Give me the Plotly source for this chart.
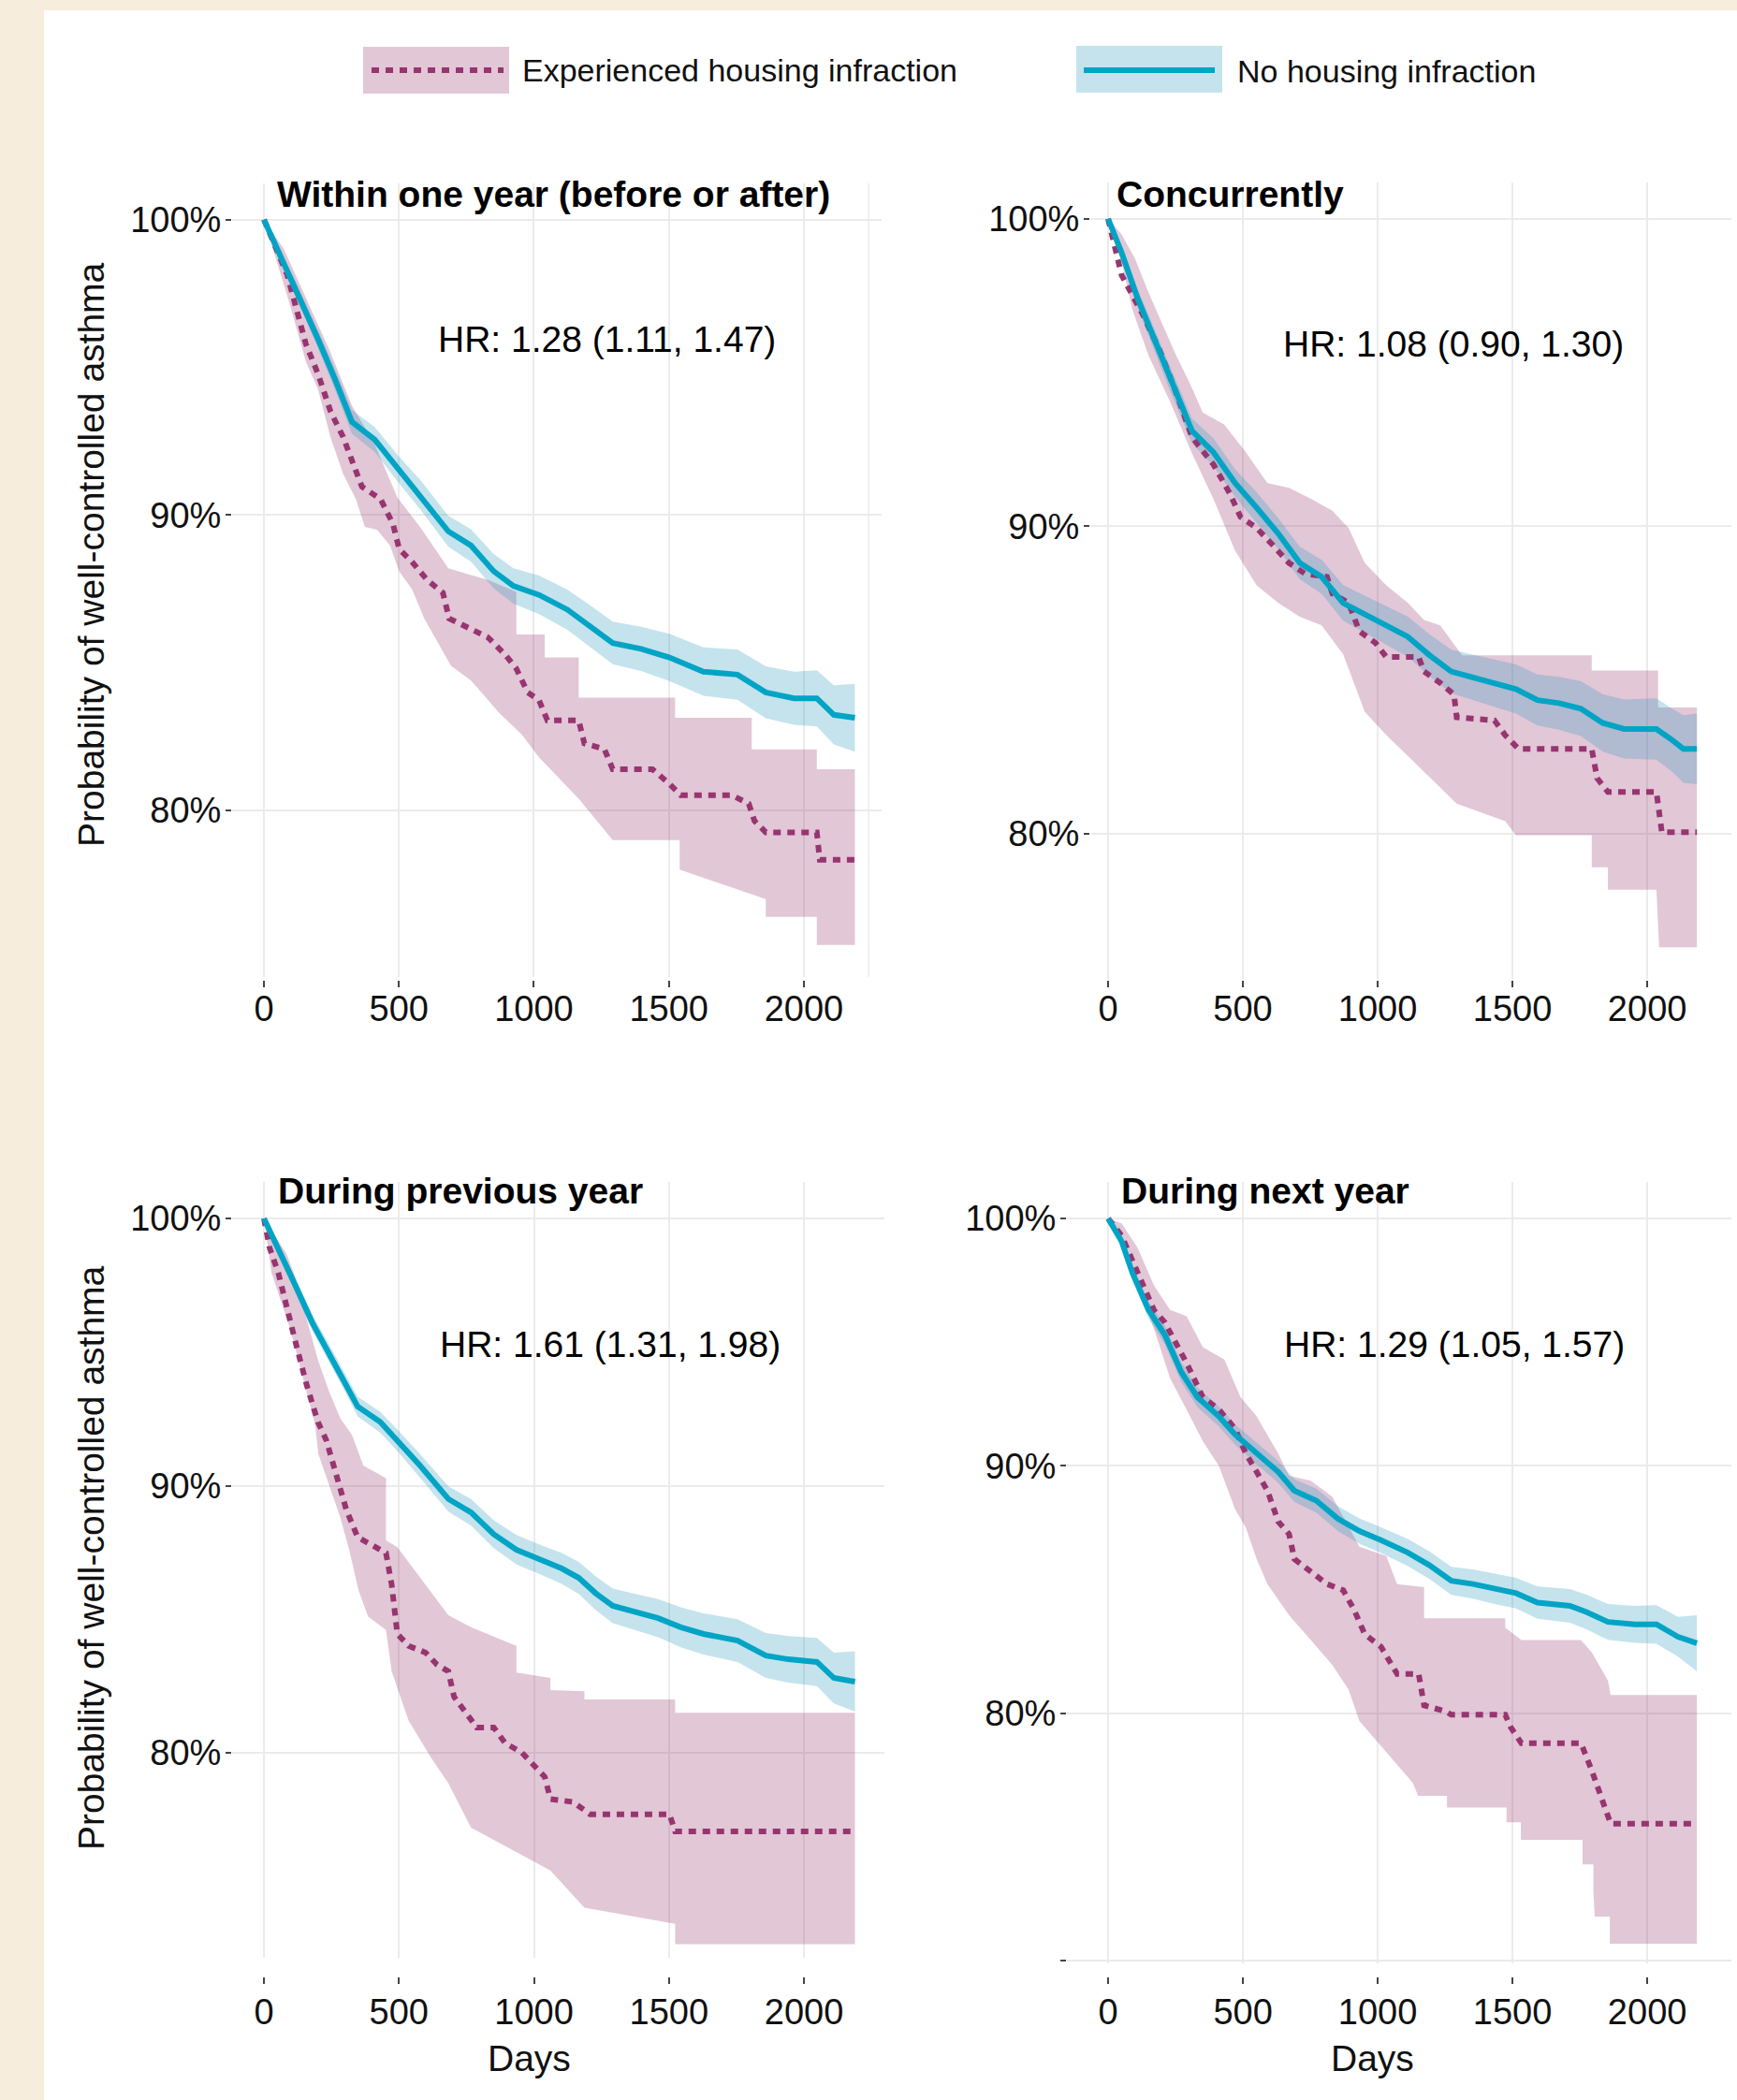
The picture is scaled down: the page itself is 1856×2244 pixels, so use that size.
import plotly.graph_objects as go

W, H = 1856, 2244

# ---------------- data ----------------
panel_titles = ["Within one year (before or after)", "Concurrently",
                "During previous year", "During next year"]
hr_labels = ["HR: 1.28 (1.11, 1.47)", "HR: 1.08 (0.90, 1.30)",
             "HR: 1.61 (1.31, 1.98)", "HR: 1.29 (1.05, 1.57)"]
series_names = ["Experienced housing infraction", "No housing infraction"]
x_tick_vals = [0, 500, 1000, 1500, 2000]
y_tick_vals = [80, 90, 100]
y_tick_text = ["80%", "90%", "100%"]
y_tick_vals_p4 = [70, 80, 90, 100]
y_tick_text_p4 = ["", "80%", "90%", "100%"]

# Panel 1: within one year (before or after)
p1_none_days = [0, 116, 200, 263, 326, 410, 494, 578, 683, 767, 851, 924, 1019, 1124, 1208,
                1292, 1397, 1502, 1628, 1754, 1859, 1964, 2048, 2111, 2189]
p1_none_surv = [100, 97.7, 95.96, 94.6, 93.15, 92.56, 91.6, 90.7, 89.45, 88.97, 88.1, 87.6, 87.3,
                86.8, 86.25, 85.67, 85.47, 85.18, 84.7, 84.6, 84.0, 83.8, 83.8, 83.24, 83.14]
p1_none_hi = [100, 97.95, 96.26, 94.95, 93.55, 92.98, 92.05, 91.2, 89.97, 89.52, 88.68, 88.2, 87.95,
              87.48, 86.95, 86.39, 86.22, 85.98, 85.52, 85.45, 84.88, 84.7, 84.75, 84.24, 84.29]
p1_none_lo = [100, 97.45, 95.66, 94.25, 92.75, 92.14, 91.15, 90.2, 88.93, 88.42, 87.52, 87.0, 86.65,
              86.12, 85.55, 84.95, 84.72, 84.38, 83.88, 83.75, 83.12, 82.9, 82.85, 82.24, 81.99]
p1_inf_days = [0, 86, 155, 201, 247, 293, 328, 363, 432, 478, 501, 548, 605, 663, 686, 767, 830, 893,
               935, 977, 1019, 1050, 1166, 1187, 1261, 1292, 1439, 1502, 1544, 1733, 1796, 1817,
               1859, 2048, 2059, 2189]
p1_inf_surv = [100, 98.14, 95.8, 94.76, 93.5, 92.65, 91.8, 90.96, 90.54, 89.7, 88.85, 88.42, 87.8,
               87.37, 86.5, 86.15, 85.86, 85.28, 84.8, 84.0, 83.73, 83.05, 83.05, 82.27, 82.08, 81.4,
               81.4, 80.9, 80.52, 80.52, 80.23, 79.65, 79.26, 79.26, 78.33, 78.33]
p1_inf_hi_days = [0, 74, 158, 242, 326, 410, 494, 578, 683, 760, 830, 935, 935, 1040, 1040, 1166,
                  1166, 1523, 1523, 1807, 1807, 2048, 2048, 2189]
p1_inf_hi = [100, 99.0, 97.3, 95.6, 93.7, 92.4, 90.6, 89.6, 88.2, 88.0, 87.8, 87.4, 85.96, 85.96,
             85.18, 85.18, 83.82, 83.82, 83.14, 83.14, 82.07, 82.07, 81.4, 81.4]
p1_inf_lo_days = [0, 97, 155, 201, 246, 293, 340, 374, 420, 467, 501, 548, 594, 693, 767, 872, 956,
                  1019, 1166, 1292, 1540, 1540, 1859, 1859, 2048, 2048, 2189]
p1_inf_lo = [100, 97.1, 95.2, 94.24, 92.65, 91.4, 90.55, 89.6, 89.5, 88.97, 88.1, 87.5, 86.5, 84.9,
             84.4, 83.3, 82.56, 81.8, 80.4, 79.0, 79.0, 78.0, 77.0, 76.4, 76.4, 75.45, 75.45]

# Panel 2: concurrently
p2_none_days = [0, 50, 110, 170, 230, 311, 391, 471, 551, 631, 711, 792, 872, 952, 1032, 1112, 1192,
                1273, 1353, 1433, 1513, 1593, 1673, 1754, 1834, 1914, 2034, 2094, 2134, 2184]
p2_none_surv = [100, 98.9, 97.4, 96.1, 94.8, 93.1, 92.4, 91.4, 90.6, 89.76, 88.8, 88.35, 87.5, 87.14,
                86.77, 86.4, 85.8, 85.27, 85.08, 84.9, 84.7, 84.34, 84.24, 84.06, 83.6, 83.4, 83.4,
                83.03, 82.75, 82.75]
p2_none_hi = [100, 99.1, 97.7, 96.45, 95.2, 93.5, 92.85, 91.85, 91.1, 90.26, 89.33, 88.9, 88.08,
              87.74, 87.4, 87.05, 86.48, 85.98, 85.82, 85.67, 85.5, 85.17, 85.1, 84.95, 84.53, 84.36,
              84.4, 84.05, 83.85, 83.9]
p2_none_lo = [100, 98.7, 97.1, 95.75, 94.4, 92.7, 91.95, 90.95, 90.1, 89.26, 88.27, 87.8, 86.92,
              86.54, 86.14, 85.75, 85.12, 84.56, 84.34, 84.13, 83.9, 83.51, 83.38, 83.17, 82.67,
              82.44, 82.4, 82.0, 81.65, 81.6]
p2_inf_days = [0, 50, 130, 190, 250, 311, 391, 451, 491, 551, 611, 671, 731, 812, 832, 892, 932, 992,
               1032, 1152, 1172, 1232, 1283, 1293, 1433, 1473, 1523, 1794, 1814, 1854, 2034, 2054,
               2184]
p2_inf_surv = [100, 98.17, 96.86, 95.74, 94.4, 92.9, 92.0, 91.07, 90.3, 89.94, 89.38, 88.8, 88.45,
               88.35, 87.8, 87.5, 86.58, 86.2, 85.74, 85.74, 85.27, 84.9, 84.52, 83.78, 83.68, 83.2,
               82.75, 82.75, 81.8, 81.35, 81.35, 80.04, 80.04]
p2_inf_hi_days = [0, 50, 100, 150, 200, 250, 311, 351, 431, 511, 591, 671, 751, 832, 892, 952, 1032,
                  1112, 1172, 1232, 1313, 1794, 1794, 2040, 2040, 2184]
p2_inf_hi = [100, 99.5, 98.7, 97.6, 96.6, 95.6, 94.5, 93.7, 93.3, 92.4, 91.4, 91.25, 90.9, 90.5,
             89.94, 88.8, 88.07, 87.5, 86.95, 86.77, 85.8, 85.8, 85.3, 85.3, 84.1, 84.1]
p2_inf_lo_days = [0, 50, 90, 150, 230, 311, 391, 471, 551, 631, 711, 792, 872, 952, 1032, 1150,
                  1293, 1473, 1513, 1794, 1794, 1854, 1854, 2034, 2044, 2184]
p2_inf_lo = [100, 98.6, 97.05, 95.55, 94.05, 92.37, 90.88, 89.2, 88.07, 87.5, 87.05, 86.77, 85.83,
             83.96, 83.2, 82.2, 80.97, 80.4, 79.94, 79.94, 78.9, 78.9, 78.17, 78.17, 76.3, 76.3]

# Panel 3: during previous year
p3_none_days = [0, 53, 116, 179, 242, 305, 347, 431, 494, 578, 683, 767, 851, 935, 1019, 1103, 1166,
                1229, 1292, 1376, 1460, 1544, 1628, 1754, 1859, 1943, 2048, 2111, 2189]
p3_none_surv = [100, 98.9, 97.5, 96.1, 94.94, 93.78, 92.96, 92.38, 91.7, 90.75, 89.5, 89.0, 88.18,
                87.6, 87.25, 86.9, 86.55, 85.97, 85.5, 85.27, 85.04, 84.7, 84.45, 84.2, 83.64, 83.5,
                83.4, 82.8, 82.66]
p3_none_hi = [100, 99.1, 97.75, 96.4, 95.27, 94.13, 93.33, 92.76, 92.1, 91.18, 89.97, 89.5, 88.7,
              88.15, 87.8, 87.48, 87.15, 86.6, 86.15, 85.95, 85.75, 85.45, 85.22, 85.0, 84.48, 84.37,
              84.3, 83.75, 83.8]
p3_none_lo = [100, 98.7, 97.25, 95.8, 94.6, 93.43, 92.59, 91.98, 91.3, 90.3, 89.03, 88.5, 87.66,
              87.05, 86.7, 86.32, 85.95, 85.34, 84.85, 84.59, 84.33, 83.95, 83.68, 83.4, 82.8, 82.63,
              82.5, 81.85, 81.54]
p3_inf_days = [0, 21, 53, 84, 116, 158, 200, 231, 263, 305, 347, 389, 452, 473, 494, 536, 599, 641,
               683, 704, 746, 788, 851, 893, 956, 1008, 1040, 1061, 1145, 1208, 1502, 1523, 2189]
p3_inf_surv = [100, 98.9, 97.97, 96.8, 95.4, 93.78, 92.38, 91.7, 90.5, 89.1, 88.07, 87.83, 87.48,
               86.3, 84.45, 84.0, 83.75, 83.3, 83.05, 82.1, 81.5, 80.95, 80.95, 80.37, 80.0, 79.4,
               79.1, 78.27, 78.16, 77.7, 77.7, 77.06, 77.06]
p3_inf_hi_days = [0, 84, 116, 158, 200, 242, 284, 326, 368, 452, 452, 494, 578, 683, 767, 935, 935,
                  1061, 1061, 1187, 1187, 1523, 1523, 2189]
p3_inf_hi = [100, 98.67, 97.8, 96.2, 94.7, 93.5, 92.5, 91.9, 90.75, 90.28, 87.95, 87.7, 86.55,
             85.15, 84.7, 84.0, 83.0, 82.8, 82.35, 82.3, 82.0, 82.0, 81.5, 81.5]
p3_inf_lo_days = [0, 28, 97, 143, 190, 201, 281, 316, 351, 386, 452, 473, 536, 578, 620, 683, 767,
                  893, 1061, 1187, 1523, 1523, 2189]
p3_inf_lo = [100, 97.97, 95.87, 94.1, 92.25, 91.2, 88.86, 87.58, 86.06, 85.1, 84.6, 83.05, 81.2,
             80.5, 79.8, 78.86, 77.2, 76.5, 75.6, 74.2, 73.6, 72.84, 72.84]

# Panel 4: during next year
p4_none_days = [0, 50, 90, 150, 210, 271, 331, 411, 471, 551, 631, 691, 772, 852, 932, 1012, 1112,
                1192, 1273, 1353, 1433, 1513, 1593, 1713, 1774, 1854, 1954, 2034, 2114, 2184]
p4_none_surv = [100, 99.07, 97.8, 96.3, 95.3, 93.8, 92.78, 92.0, 91.27, 90.5, 89.76, 89.0, 88.6,
                87.87, 87.37, 87.0, 86.5, 85.99, 85.36, 85.23, 85.03, 84.86, 84.48, 84.35, 84.1,
                83.7, 83.6, 83.6, 83.1, 82.84]
p4_none_hi = [100, 99.3, 98.1, 96.65, 95.68, 94.2, 93.18, 92.4, 91.68, 90.93, 90.2, 89.46, 89.08,
              88.37, 87.88, 87.52, 87.05, 86.55, 85.93, 85.82, 85.64, 85.48, 85.13, 85.03, 84.8,
              84.42, 84.35, 84.38, 83.9, 83.97]
p4_none_lo = [100, 98.85, 97.5, 95.95, 94.92, 93.4, 92.38, 91.6, 90.86, 90.07, 89.32, 88.54, 88.12,
              87.37, 86.86, 86.48, 85.95, 85.43, 84.79, 84.64, 84.42, 84.24, 83.83, 83.67, 83.4,
              82.98, 82.85, 82.82, 82.3, 81.7]
p4_inf_days = [0, 50, 110, 170, 210, 250, 291, 351, 411, 471, 511, 551, 591, 631, 671, 691, 752, 812,
               872, 912, 952, 1012, 1052, 1072, 1152, 1172, 1253, 1273, 1473, 1493, 1533, 1754,
               1794, 1834, 1864, 2184]
p4_inf_surv = [100, 99.3, 97.8, 96.3, 95.8, 95.0, 94.16, 92.78, 92.28, 91.5, 90.5, 89.76, 89.0,
               87.75, 87.25, 86.24, 85.74, 85.23, 84.98, 84.2, 83.2, 82.7, 81.96, 81.6, 81.6, 80.33,
               80.08, 79.95, 79.95, 79.45, 78.8, 78.8, 77.7, 76.4, 75.55, 75.55]
p4_inf_hi_days = [0, 50, 110, 170, 230, 291, 351, 431, 491, 551, 631, 671, 752, 832, 932, 1032, 1072,
                  1172, 1172, 1473, 1473, 1533, 1754, 1794, 1854, 1864, 2184]
p4_inf_hi = [100, 99.8, 98.8, 97.3, 96.3, 96.05, 94.8, 94.3, 92.78, 92.0, 90.5, 89.6, 89.4, 88.75,
             86.74, 86.36, 85.23, 85.1, 83.85, 83.85, 83.47, 82.97, 82.97, 82.47, 81.33, 80.75,
             80.75]
p4_inf_lo_days = [0, 50, 110, 170, 230, 291, 351, 411, 471, 511, 551, 591, 671, 752, 832, 892, 932,
                  1052, 1130, 1150, 1257, 1257, 1478, 1478, 1531, 1531, 1760, 1760, 1800, 1800, 1805,
                  1861, 1861, 2184]
p4_inf_lo = [100, 98.9, 97.3, 95.55, 93.53, 92.28, 91.0, 90.0, 88.25, 87.5, 86.24, 85.23, 83.97,
             82.97, 81.96, 80.96, 79.7, 78.2, 77.2, 76.67, 76.67, 76.2, 76.2, 75.6, 75.6, 74.9, 74.9,
             73.9, 73.9, 72.85, 71.8, 71.8, 70.7, 70.7]

# ---------------- styling ----------------
CREAM = "#F6EDDC"
TEAL = "#00A4C5"
MAROON = "#973570"
TEAL_FILL = "rgba(40,150,190,0.27)"
PINK_FILL = "rgba(150,55,110,0.28)"
GRID = "#EBEBEB"
FONT = "Liberation Sans, Arial, Helvetica, sans-serif"
DOT = "8px,7px"


def px_x(px):
    return px / W


def px_y(py):
    return 1 - py / H


# pixel frame of each panel: (left, right), (top, bottom), x range, y range,
# x tick row and label standoff
frames = [
    dict(xd=(248, 942), yd=(196, 1044), xr=(-118, 2288), yr=(74.365, 101.226), tick=1047, so=-10),
    dict(xd=(1165, 1850), yd=(195, 1046), xr=(-66, 2312), yr=(75.27, 101.18), tick=1047, so=-10),
    dict(xd=(248, 945), yd=(1263, 2092), xr=(-118, 2298), yr=(72.33, 101.366), tick=2112, so=-3),
    dict(xd=(1140, 1850), yd=(1263, 2098), xr=(-153, 2312), yr=(69.905, 101.474), tick=2112, so=-3),
]

panels = [
    (p1_none_days, p1_none_surv, p1_none_lo, p1_none_hi, p1_inf_days, p1_inf_surv,
     p1_inf_hi_days, p1_inf_hi, p1_inf_lo_days, p1_inf_lo),
    (p2_none_days, p2_none_surv, p2_none_lo, p2_none_hi, p2_inf_days, p2_inf_surv,
     p2_inf_hi_days, p2_inf_hi, p2_inf_lo_days, p2_inf_lo),
    (p3_none_days, p3_none_surv, p3_none_lo, p3_none_hi, p3_inf_days, p3_inf_surv,
     p3_inf_hi_days, p3_inf_hi, p3_inf_lo_days, p3_inf_lo),
    (p4_none_days, p4_none_surv, p4_none_lo, p4_none_hi, p4_inf_days, p4_inf_surv,
     p4_inf_hi_days, p4_inf_hi, p4_inf_lo_days, p4_inf_lo),
]

fig = go.Figure()

for i, (frame, data) in enumerate(zip(frames, panels)):
    n = "" if i == 0 else str(i + 1)
    xa, ya = "x" + n, "y" + n
    (nd, ns, nlo, nhi, idays, isurv, ihd, ihi, ild, ilo) = data

    # confidence band of the exposed group
    fig.add_trace(go.Scatter(
        x=list(ihd) + list(reversed(ild)), y=list(ihi) + list(reversed(ilo)),
        fill="toself", fillcolor=PINK_FILL, line=dict(width=0), mode="lines",
        hoverinfo="skip", showlegend=False, xaxis=xa, yaxis=ya))
    # confidence band of the unexposed group
    fig.add_trace(go.Scatter(
        x=list(nd) + list(reversed(nd)), y=list(nhi) + list(reversed(nlo)),
        fill="toself", fillcolor=TEAL_FILL, line=dict(width=0), mode="lines",
        hoverinfo="skip", showlegend=False, xaxis=xa, yaxis=ya))
    # survival curves
    fig.add_trace(go.Scatter(
        x=idays, y=isurv, mode="lines", name=series_names[0],
        line=dict(color=MAROON, width=6, dash=DOT),
        showlegend=False, xaxis=xa, yaxis=ya))
    fig.add_trace(go.Scatter(
        x=nd, y=ns, mode="lines", name=series_names[1],
        line=dict(color=TEAL, width=6),
        showlegend=False, xaxis=xa, yaxis=ya))

    is_last = i == 3
    fig.update_layout({
        "xaxis" + n: dict(
            domain=[px_x(frame["xd"][0]), px_x(frame["xd"][1])],
            range=list(frame["xr"]), anchor="free", position=px_y(frame["tick"]),
            tickvals=x_tick_vals, ticks="outside", ticklen=7, tickwidth=1.5,
            tickcolor="#444", showline=False, zeroline=False,
            showgrid=True, gridcolor=GRID, gridwidth=1.5,
            tickfont=dict(size=38, color="#111", family=FONT),
            ticklabelstandoff=frame["so"],
        ),
        "yaxis" + n: dict(
            domain=[px_y(frame["yd"][1]), px_y(frame["yd"][0])],
            range=list(frame["yr"]), anchor=xa,
            tickvals=y_tick_vals_p4 if is_last else y_tick_vals,
            ticktext=y_tick_text_p4 if is_last else y_tick_text,
            ticks="outside", ticklen=6, tickwidth=1.5, tickcolor="#444",
            showline=False, zeroline=False, showgrid=True, gridcolor=GRID, gridwidth=1.5,
            tickfont=dict(size=38, color="#111", family=FONT), ticklabelstandoff=-3,
        ),
    })

annotations = []
title_pos = [(294, 208), (1191, 208), (295, 1272), (1196, 1272)]
for (tx, ty), t in zip(title_pos, panel_titles):
    annotations.append(dict(text="<b>" + t + "</b>", x=px_x(tx), y=px_y(ty), xref="paper",
                            yref="paper", xanchor="left", yanchor="middle", showarrow=False,
                            font=dict(size=39, color="#000", family=FONT)))
hr_pos = [(648, 363), (1553, 367), (652, 1436), (1554, 1436)]
for (hx, hy), t in zip(hr_pos, hr_labels):
    annotations.append(dict(text=t, x=px_x(hx), y=px_y(hy), xref="paper", yref="paper",
                            xanchor="center", yanchor="middle", showarrow=False,
                            font=dict(size=39, color="#000", family=FONT)))
for cy in (593, 1665):
    annotations.append(dict(text="Probability of well-controlled asthma", x=px_x(97),
                            y=px_y(cy), xref="paper", yref="paper", textangle=-90,
                            xanchor="center", yanchor="middle", showarrow=False,
                            font=dict(size=39, color="#111", family=FONT)))
for cx in (565, 1466):
    annotations.append(dict(text="Days", x=px_x(cx), y=px_y(2199), xref="paper", yref="paper",
                            xanchor="center", yanchor="middle", showarrow=False,
                            font=dict(size=39, color="#111", family=FONT)))
# legend labels
annotations.append(dict(text=series_names[0], x=px_x(556), y=px_y(75), xref="paper",
                        yref="paper", xanchor="left", yanchor="middle", showarrow=False,
                        font=dict(size=34, color="#111", family=FONT)))
annotations.append(dict(text=series_names[1], x=px_x(1320), y=px_y(76), xref="paper",
                        yref="paper", xanchor="left", yanchor="middle", showarrow=False,
                        font=dict(size=34, color="#111", family=FONT)))

shapes = [
    # white card on the cream page
    dict(type="rect", xref="paper", yref="paper", x0=px_x(47), x1=1, y0=0, y1=px_y(11),
         fillcolor="white", line=dict(width=0), layer="below"),
    # extra right-hand rule in the first panel
    dict(type="line", xref="x", yref="y domain", x0=2240, x1=2240, y0=0, y1=1,
         line=dict(color=GRID, width=1.5), layer="below"),
    # legend keys
    dict(type="rect", xref="paper", yref="paper", x0=px_x(388), x1=px_x(544), y0=px_y(100),
         y1=px_y(50), fillcolor=PINK_FILL, line=dict(width=0)),
    dict(type="line", xref="paper", yref="paper", x0=px_x(397), x1=px_x(538), y0=px_y(75),
         y1=px_y(75), line=dict(color=MAROON, width=6, dash=DOT)),
    dict(type="rect", xref="paper", yref="paper", x0=px_x(1150), x1=px_x(1306), y0=px_y(99),
         y1=px_y(49), fillcolor=TEAL_FILL, line=dict(width=0)),
    dict(type="line", xref="paper", yref="paper", x0=px_x(1158), x1=px_x(1298), y0=px_y(75),
         y1=px_y(75), line=dict(color=TEAL, width=6)),
]

fig.update_layout(
    width=W, height=H, margin=dict(l=0, r=0, t=0, b=0),
    paper_bgcolor=CREAM, plot_bgcolor="rgba(0,0,0,0)",
    showlegend=False, annotations=annotations, shapes=shapes,
    font=dict(family=FONT, color="#111", size=38),
)

fig.write_html("out.html")
